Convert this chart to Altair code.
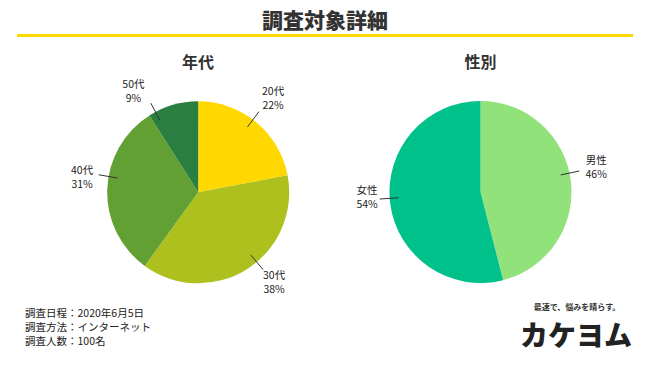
import altair as alt
import pandas as pd

# ---- data ----
age_cats = ["20代", "30代", "40代", "50代"]
age_vals = [22, 38, 31, 9]
gender_cats = ["男性", "女性"]
gender_vals = [46, 54]
notes = ["調査日程：2020年6月5日", "調査方法：インターネット", "調査人数：100名"]
main_title = "調査対象詳細"
sub_titles = ["年代", "性別"]
tagline = "最速で、悩みを晴らす。"
logo = "カケヨム"

# ---- style / layout ----
FONT = "Noto Sans CJK JP"
age_colors = ["#FFD800", "#ADC01E", "#63A034", "#2A7E3F"]
gender_colors = ["#91E27B", "#00C18A"]
age_line_angle = [37, 140, 280, 332]
age_label_angle = [38.6, 140, 277, 327]
age_label_r = [120, 118, 117, 119]
gender_line_angle = [78, 266]
gender_label_angle = [78.5, 267]
gender_label_r = [118, 113.6]
R = 91
R1, R2 = 82, 101

color_scale = alt.Scale(domain=age_cats + gender_cats, range=age_colors + gender_colors)


def pie(cats, vals, langles, angles, radii, cx, cy):
    df = pd.DataFrame({"cat": cats, "val": vals, "idx": list(range(len(cats))),
                       "ln": langles, "la": angles, "lr": radii})
    base = alt.Chart(df)
    arc = base.mark_arc(outerRadius=R).encode(
        theta=alt.Theta("val:Q", stack=True),
        order=alt.Order("idx:Q"),
        color=alt.Color("cat:N", scale=color_scale, legend=None),
        x=alt.value(cx), y=alt.value(cy),
    )
    lrad = "datum.ln*PI/180"
    lines = base.transform_calculate(
        x1=f"{cx}+{R1}*sin({lrad})", y1=f"{cy}-{R1}*cos({lrad})",
        x2=f"{cx}+{R2}*sin({lrad})", y2=f"{cy}-{R2}*cos({lrad})",
    ).mark_rule(color="#333333", strokeWidth=1).encode(
        x=alt.X("x1:Q", scale=None), y=alt.Y("y1:Q", scale=None),
        x2="x2:Q", y2="y2:Q",
    )
    rad = "datum.la*PI/180"
    labels = base.transform_calculate(
        lx=f"{cx}+datum.lr*sin({rad})", ly=f"{cy}-datum.lr*cos({rad})",
        txt="datum.cat + '\\n' + datum.val + '%'",
    ).mark_text(lineBreak="\n", font=FONT, fontSize=10.5, lineHeight=14, dy=-7,
                align="center", baseline="middle", color="#222222").encode(
        x=alt.X("lx:Q", scale=None), y=alt.Y("ly:Q", scale=None), text="txt:N",
    )
    return arc + lines + labels


one = alt.Chart(pd.DataFrame({"a": [0]}))

title = alt.Chart(pd.DataFrame({"t": [main_title]})).mark_text(
    font=FONT, fontSize=21, fontWeight=900, color="#333333", baseline="alphabetic"
).encode(x=alt.value(317), y=alt.value(19.5), text="t:N")

rule = one.mark_rule(color="#FFD800", strokeWidth=3).encode(
    x=alt.value(9), x2=alt.value(625), y=alt.value(27.5))

subs = alt.Chart(pd.DataFrame({"t": sub_titles, "x": [190, 472.5]})).mark_text(
    font=FONT, fontSize=16, fontWeight="bold", color="#333333", baseline="middle"
).encode(x=alt.X("x:Q", scale=None), y=alt.value(55), text="t:N")

note = alt.Chart(pd.DataFrame({"t": ["\n".join(notes)]})).mark_text(
    font=FONT, fontSize=10.5, lineHeight=14, lineBreak="\n", align="left",
    baseline="middle", color="#222222"
).encode(x=alt.value(17), y=alt.value(306), text="t:N")

tag = alt.Chart(pd.DataFrame({"t": [tagline]})).mark_text(
    font=FONT, fontSize=8, fontWeight="bold", color="#333333", baseline="middle"
).encode(x=alt.value(569), y=alt.value(300), text="t:N")

logo_t = alt.Chart(pd.DataFrame({"t": [logo]})).mark_text(
    font=FONT, fontSize=28, fontWeight=900, color="#222222", baseline="middle"
).encode(x=alt.value(568), y=alt.value(330), text="t:N")

chart = alt.layer(
    title, rule, subs,
    pie(age_cats, age_vals, age_line_angle, age_label_angle, age_label_r, 190.2, 184.3),
    pie(gender_cats, gender_vals, gender_line_angle, gender_label_angle, gender_label_r, 472.5, 184),
    note, tag, logo_t,
).properties(
    width=634, height=349, autosize=alt.AutoSizeParams(type="none"), padding=0,
    background="white",
).configure_view(stroke=None)

chart.save("out.html", embed_options={"renderer": "svg", "actions": False})
